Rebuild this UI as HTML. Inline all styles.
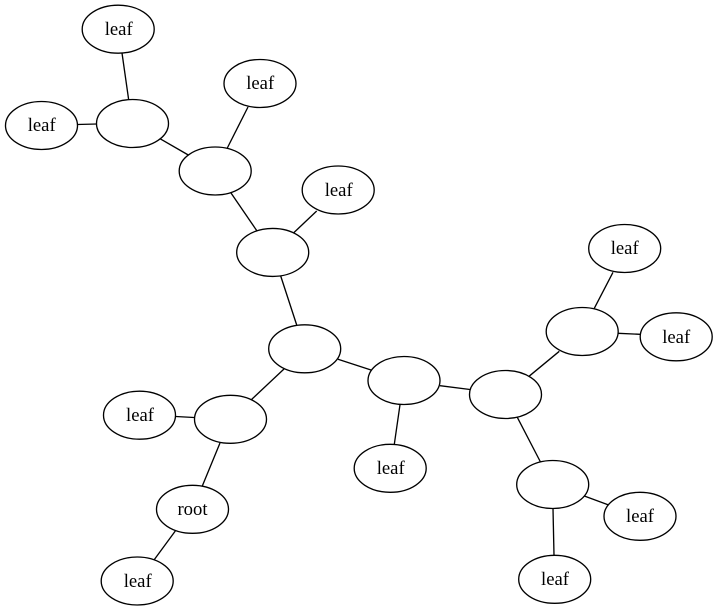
<!DOCTYPE html>
<html>
<head>
<meta charset="utf-8">
<style>
html,body{margin:0;padding:0;background:#fff;width:717px;height:610px;overflow:hidden}
svg{display:block}
ellipse{fill:#fff;stroke:#000;stroke-width:1.33}
line{stroke:#000;stroke-width:1.33}
text{font-family:"Liberation Serif",serif;font-size:18.67px;fill:#000;text-anchor:middle}
</style>
</head>
<body>
<svg width="717" height="610" viewBox="0 0 717 610" xmlns="http://www.w3.org/2000/svg">
<line x1="122" y1="53" x2="128.700" y2="100"/>
<line x1="77" y1="124.500" x2="97" y2="124"/>
<line x1="160" y1="138.700" x2="188.300" y2="155"/>
<line x1="248" y1="107" x2="227.300" y2="148"/>
<line x1="231" y1="193" x2="257" y2="231"/>
<line x1="316.700" y1="211" x2="294" y2="232.500"/>
<line x1="280.700" y1="276" x2="296.700" y2="325"/>
<line x1="338" y1="359.300" x2="371" y2="370"/>
<line x1="284" y1="369" x2="251" y2="400"/>
<line x1="175.700" y1="416.500" x2="194" y2="417.500"/>
<line x1="220" y1="443" x2="202.300" y2="486"/>
<line x1="175.300" y1="531" x2="154" y2="560"/>
<line x1="400" y1="404.700" x2="394.300" y2="444.300"/>
<line x1="440" y1="385.700" x2="470" y2="389.500"/>
<line x1="529" y1="376.300" x2="559.300" y2="351.300"/>
<line x1="613" y1="272.300" x2="594.300" y2="308.300"/>
<line x1="618.300" y1="333.300" x2="640" y2="334.300"/>
<line x1="517.300" y1="417.300" x2="541" y2="463"/>
<line x1="584.300" y1="496" x2="608" y2="504.700"/>
<line x1="553" y1="508.700" x2="554" y2="555.300"/>
<ellipse cx="118.200" cy="29.200" rx="36" ry="24"/>
<ellipse cx="41.500" cy="125.500" rx="36" ry="24"/>
<ellipse cx="132.500" cy="123.500" rx="36" ry="24"/>
<ellipse cx="260" cy="83.500" rx="36" ry="24"/>
<ellipse cx="215.200" cy="171" rx="36" ry="24"/>
<ellipse cx="338.200" cy="190" rx="36" ry="24"/>
<ellipse cx="272.700" cy="252.400" rx="36" ry="24"/>
<ellipse cx="304.700" cy="348.800" rx="36" ry="24"/>
<ellipse cx="404" cy="380.500" rx="36" ry="24"/>
<ellipse cx="505.500" cy="394.500" rx="36" ry="24"/>
<ellipse cx="582.200" cy="331.500" rx="36" ry="24"/>
<ellipse cx="624.700" cy="248.500" rx="36" ry="24"/>
<ellipse cx="676.200" cy="336.800" rx="36" ry="24"/>
<ellipse cx="139.500" cy="415.200" rx="36" ry="24"/>
<ellipse cx="230.500" cy="419.300" rx="36" ry="24"/>
<ellipse cx="192.500" cy="509.300" rx="36" ry="24"/>
<ellipse cx="137.200" cy="581" rx="36" ry="24"/>
<ellipse cx="390.200" cy="468.300" rx="36" ry="24"/>
<ellipse cx="552.700" cy="484.500" rx="36" ry="24"/>
<ellipse cx="640" cy="516.300" rx="36" ry="24"/>
<ellipse cx="554.700" cy="579.300" rx="36" ry="24"/>
<text x="118.700" y="35">leaf</text>
<text x="41.700" y="131">leaf</text>
<text x="260.200" y="89">leaf</text>
<text x="338.700" y="196">leaf</text>
<text x="624.700" y="254">leaf</text>
<text x="676.200" y="343">leaf</text>
<text x="140" y="421">leaf</text>
<text x="192.500" y="515">root</text>
<text x="137.700" y="587">leaf</text>
<text x="390.700" y="474">leaf</text>
<text x="640" y="522">leaf</text>
<text x="555" y="585">leaf</text>
</svg>
</body>
</html>
